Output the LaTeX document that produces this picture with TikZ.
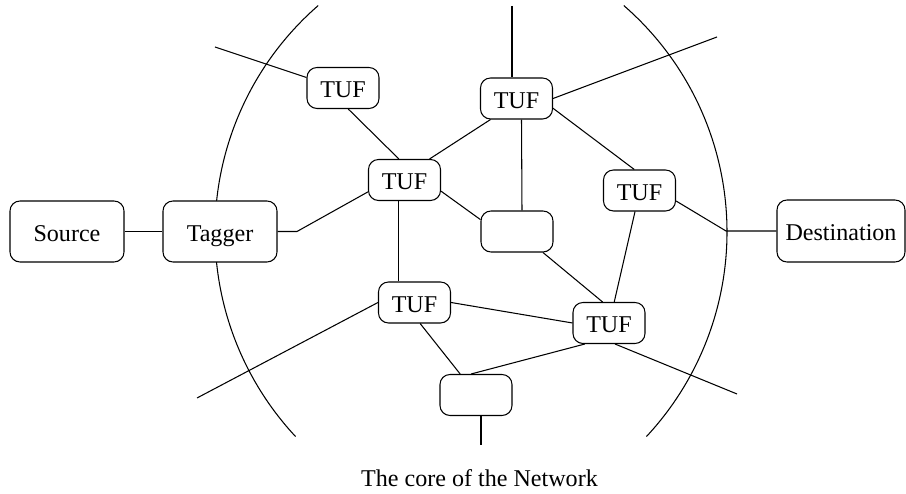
\documentclass[tikz,border=0pt]{standalone}
\usepackage{fontspec}
\setmainfont{Liberation Serif}
\usepackage{tikz}

\begin{document}
\begin{tikzpicture}[line width=0.6pt, font=\fontsize{13.7}{16}\selectfont,
  tufbox/.style={draw, fill=white, rounded corners=0.2cm, inner sep=0pt, text height=0.45cm, text depth=0.05cm, minimum width=1.44cm, minimum height=0.82cm},
  hostbox/.style={tufbox, minimum width=2.28cm, minimum height=1.22cm}]
  \useasboundingbox (0,0) rectangle (18.12,9.88);

  %coordinates
  \coordinate (SrcBox)  at (1.34,5.25);
  \coordinate (TagBox)  at (4.40,5.25);
  \coordinate (DstBox)  at (16.82,5.26);
  \coordinate (Tuf1)    at (6.86,8.12);
  \coordinate (Tuf2)    at (10.33,7.91);
  \coordinate (Tuf3)    at (8.09,6.28);
  \coordinate (Tuf4)    at (12.79,6.07);
  \coordinate (Mid)     at (10.34,5.25);
  \coordinate (Tuf5)    at (8.29,3.83);
  \coordinate (Tuf6)    at (12.18,3.42);
  \coordinate (Bot)     at (9.52,1.98);
  \coordinate (CoreL)   at (10.30,5.24);
  \coordinate (CoreR)   at (8.54,5.24);

  %loose ends
  \coordinate (tg)    at (5.94,5.25);
  \coordinate (nw)    at (4.30,8.94);
  \coordinate (t2up)  at (10.24,9.76);
  \coordinate (ne)    at (14.34,9.14);
  \coordinate (dpt)   at (14.52,5.26);
  \coordinate (sw)    at (3.94,1.92);
  \coordinate (se)    at (14.74,2.00);
  \coordinate (bdown) at (9.62,0.98);

  %core of the network
  \draw (CoreL) ++(131:6) arc[start angle=131, end angle=223, radius=6];
  \draw (CoreR) ++(49:6) arc[start angle=49, end angle=-43, radius=6];

  %nodes
  \node[hostbox] (S) at (SrcBox) {Source};
  \node[hostbox] (T) at (TagBox) {Tagger};
  \node[hostbox, minimum width=2.56cm, minimum height=1.24cm] (D) at (DstBox) {Destination};
  \node[tufbox] (A) at (Tuf1) {TUF};
  \node[tufbox] (B) at (Tuf2) {TUF};
  \node[tufbox] (C) at (Tuf3) {TUF};
  \node[tufbox] (E) at (Tuf4) {TUF};
  \node[tufbox] (M) at (Mid) {};
  \node[tufbox] (F) at (Tuf5) {TUF};
  \node[tufbox] (G) at (Tuf6) {TUF};
  \node[tufbox] (K) at (Bot) {};
  \node[anchor=base] (title) at (9.59,0.14) {The core of the Network};

\draw (S.east) -- (T.west);
\draw (T.east) -- (tg) -- (C.198);
\draw (nw) -- (A.164);
\draw (A.-76) -- (C.105);
\draw (C.40) -- (B.219);
\draw (C.-17) -- (M.162);
\draw (t2up) -- (t2up |- B.north);
\draw ([xshift=0.1cm]B.south) -- ([xshift=0.1cm]M.north);
\draw (B.east) -- (ne);
\draw (B.-15) -- (E.104);
\draw (E.-16) -- (dpt) -- (D.west);
\draw (E.-102) -- (G.76);
\draw (M.-39) -- (G.107);
\draw (C.-105) -- (C.-105 |- F.north);
\draw (F.west) -- (sw);
\draw (F.east) -- (G.west);
\draw (F.-75) -- (K.127);
\draw (G.221) -- (K.103);
\draw (G.-74) -- (se);
\draw (bdown |- K.south) -- (bdown);

\end{tikzpicture}
\end{document}
